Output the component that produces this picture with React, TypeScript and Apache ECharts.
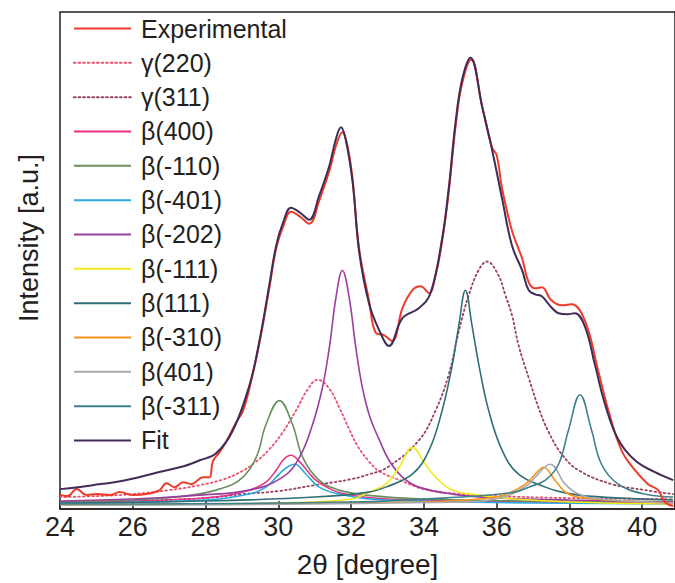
import React, { useEffect, useRef } from "react";
import * as echarts from "echarts";

type P = [number, number];

const xTicks = [24, 26, 28, 30, 32, 34, 36, 38, 40];

const experimental: P[] = [
  [24.0, 14], [24.2, 13], [24.46, 20], [24.73, 14], [25.01, 15], [25.37, 14], [25.64, 17], [26.01, 14],
  [26.38, 15], [26.74, 19], [26.92, 26], [27.15, 22], [27.38, 27], [27.61, 25], [27.93, 32], [28.11, 32],
  [28.2, 48], [28.38, 57], [28.57, 68], [28.84, 87], [29.02, 98], [29.21, 122], [29.48, 167], [29.75, 222],
  [29.94, 262], [30.12, 283], [30.35, 299], [30.6, 294], [30.85, 287], [31.12, 310], [31.4, 340], [31.58, 365],
  [31.76, 379], [31.9, 365], [32.04, 332], [32.22, 262], [32.49, 210], [32.68, 177], [32.9, 175], [33.13, 169],
  [33.41, 202], [33.68, 220], [33.91, 224], [34.14, 217], [34.32, 235], [34.5, 269], [34.68, 318], [34.87, 385],
  [35.05, 428], [35.3, 452], [35.6, 405], [35.87, 364], [36.0, 356], [36.15, 322], [36.42, 280], [36.7, 252],
  [36.88, 228], [37.06, 222], [37.24, 223], [37.5, 210], [37.79, 205], [38.06, 206], [38.43, 189], [38.79, 139],
  [39.07, 99], [39.43, 59], [39.8, 39], [40.16, 25], [40.44, 19], [40.62, 7], [40.85, 3]
];

const gamma220: P[] = [
  [24, 12], [25, 13], [26, 15], [27, 19], [27.84, 24], [28.5, 30], [29.0, 38], [29.4, 48], [29.75, 60],
  [30.1, 76], [30.5, 100], [30.8, 120], [31.08, 130], [31.4, 121], [31.7, 100], [31.95, 80], [32.2, 62],
  [32.49, 48], [32.77, 38], [33.41, 28], [34, 20], [35, 15], [36, 13], [38, 11], [40.85, 10]
];

const gamma311: P[] = [
  [24, 6], [26, 8], [28, 11], [29.02, 15], [30, 18], [31, 24], [32, 30], [32.5, 35], [33, 42], [33.86, 69],
  [34.32, 99], [34.68, 135], [34.96, 179], [35.23, 215], [35.5, 240], [35.73, 249], [36.05, 235], [36.24, 215],
  [36.42, 195], [36.6, 165], [36.88, 132], [37.15, 102], [37.42, 78], [37.79, 55], [38.25, 39], [39.16, 25],
  [40.07, 19], [40.85, 15]
];

const beta400: P[] = [
  [24, 7], [27, 9], [28.5, 13], [29.21, 19], [29.66, 27], [29.94, 39], [30.15, 50], [30.35, 54], [30.55, 49],
  [30.76, 40], [31.03, 29], [31.49, 19], [31.95, 14], [33, 10], [35, 8], [40.85, 6]
];

const betaM110: P[] = [
  [24, 7], [26.5, 10], [27.6, 14], [28.29, 19], [28.93, 29], [29.39, 52], [29.66, 85], [30.03, 109], [30.39, 85],
  [30.67, 52], [31.12, 29], [31.67, 19], [32.4, 14], [34, 10], [37, 8], [40.85, 7]
];

const betaM401: P[] = [
  [24, 6], [28, 9], [29.2, 15], [29.66, 22], [29.94, 32], [30.2, 41], [30.45, 45], [30.76, 35], [31.12, 22],
  [31.67, 15], [32.5, 10], [35, 7], [40.85, 5]
];

const betaM202: P[] = [
  [24, 8], [26, 10], [27.84, 14], [29.21, 19], [30.12, 32], [30.58, 52], [30.94, 85], [31.21, 122], [31.4, 162],
  [31.58, 212], [31.76, 240], [31.95, 212], [32.13, 162], [32.31, 122], [32.52, 92], [32.77, 70], [33.04, 49],
  [33.41, 32], [33.86, 22], [34.78, 15], [36, 11], [38, 9], [40.85, 7]
];

const betaM111: P[] = [
  [24, 4], [30, 6], [32, 10], [32.49, 17], [32.95, 25], [33.32, 42], [33.68, 62], [34.04, 45], [34.32, 32],
  [34.78, 19], [35.51, 14], [36.5, 10], [38, 7], [40.85, 5]
];

const beta111: P[] = [
  [24, 6], [28, 8], [31, 12], [32.49, 17], [32.95, 22], [33.68, 35], [34.14, 59], [34.5, 99], [34.78, 145],
  [34.96, 185], [35.14, 220], [35.32, 185], [35.51, 145], [35.78, 99], [36.15, 59], [36.6, 35], [37.34, 22],
  [37.79, 17], [38.5, 13], [40.85, 9]
];

const betaM310: P[] = [
  [24, 4], [34, 7], [35.5, 10], [36.2, 14], [36.79, 25], [37.06, 35], [37.29, 42], [37.6, 29], [37.97, 15],
  [38.7, 10], [40.85, 6]
];

const beta401: P[] = [
  [24, 4], [35, 7], [36.2, 12], [36.88, 25], [37.06, 32], [37.47, 45], [37.88, 25], [38.25, 15], [38.8, 10],
  [40.85, 6]
];

const betaM311: P[] = [
  [24, 5], [32, 7], [35, 12], [36.5, 17], [36.88, 22], [37.34, 29], [37.7, 45], [37.97, 79], [38.29, 115],
  [38.61, 79], [38.88, 45], [39.34, 25], [40.07, 15], [40.85, 12]
];

const fit: P[] = [
  [24.0, 20], [24.9, 24], [25.8, 29], [26.7, 37], [27.4, 43], [27.84, 49], [28.29, 56], [28.75, 79],
  [29.21, 125], [29.48, 169], [29.75, 225], [29.94, 265], [30.12, 287], [30.35, 303], [30.6, 298], [30.85, 291],
  [31.12, 315], [31.4, 345], [31.58, 372], [31.72, 384], [31.85, 372], [32.04, 329], [32.22, 259], [32.49, 207],
  [32.77, 180], [33.04, 164], [33.41, 192], [33.86, 202], [34.18, 217], [34.5, 272], [34.68, 322], [34.87, 389],
  [35.05, 432], [35.28, 454], [35.6, 405], [35.87, 362], [36.15, 312], [36.42, 265], [36.7, 240], [36.88, 220],
  [37.06, 216], [37.24, 214], [37.5, 203], [37.7, 197], [37.95, 196], [38.15, 197], [38.43, 183], [38.7, 145],
  [38.98, 105], [39.34, 70], [39.8, 49], [40.35, 37], [40.85, 29]
];

const names = [
  "Experimental", "γ(220)", "γ(311)", "β(400)", "β(-110)", "β(-401)", "β(-202)",
  "β(-111)", "β(111)", "β(-310)", "β(401)", "β(-311)", "Fit"
];
const colors = [
  "#EE3B2A", "#E8506E", "#9A3F5C", "#E7317F", "#6B8E5E", "#29AAE1", "#9C3E9E",
  "#F2EA1E", "#2F6F75", "#F7941D", "#A7A9AC", "#40808A", "#412B57"
];
const datasets = [
  experimental, gamma220, gamma311, beta400, betaM110, betaM401, betaM202,
  betaM111, beta111, betaM310, beta401, betaM311, fit
];

export default function App() {
  const ref = useRef<HTMLDivElement>(null);
  useEffect(() => {
    if (!ref.current) return;
    const chart = echarts.init(ref.current, undefined, { renderer: "svg" });
    const font = "'Liberation Sans', Arial, Helvetica, sans-serif";
    const series = names.map((n, i) => {
      const dotted = n.startsWith("γ");
      const main = n === "Experimental" || n === "Fit";
      return {
        name: n,
        type: "line",
        data: datasets[i],
        smooth: 0.4,
        symbol: "none",
        z: n === "Fit" ? 4 : n === "Experimental" ? 3 : 2,
        lineStyle: {
          color: colors[i],
          width: main ? 2 : dotted ? 1.8 : 1.6,
          type: dotted ? [1.6, 3] : "solid",
          cap: dotted ? "round" : "butt",
        },
        itemStyle: { color: colors[i] },
      };
    });
    chart.setOption({
      animation: false,
      backgroundColor: "#ffffff",
      grid: {
        left: 60, top: 12, right: -2, bottom: 71,
        show: true, borderColor: "#231F20", borderWidth: 1.5, backgroundColor: "transparent",
      },
      legend: {
        data: names,
        orient: "vertical",
        left: 73,
        top: 16,
        padding: 0,
        itemWidth: 57,
        itemHeight: 14,
        itemGap: 9.33,
        itemStyle: { opacity: 0 },
        textStyle: { fontSize: 25, lineHeight: 24, color: "#231F20", fontFamily: font, padding: [0, 0, 0, 5] },
      },
      xAxis: {
        type: "value",
        min: 24,
        max: 40.9,
        interval: 2,
        name: "2θ [degree]",
        nameLocation: "middle",
        nameGap: 41,
        nameTextStyle: { fontSize: 28, color: "#231F20", fontFamily: font },
        axisLine: { show: true, lineStyle: { color: "#231F20", width: 1.5 } },
        axisTick: { show: true, inside: true, length: 8, lineStyle: { color: "#231F20", width: 1.5 } },
        axisLabel: {
          fontSize: 27, color: "#231F20", fontFamily: font, margin: 4,
          customValues: xTicks,
          formatter: (v: number) => (xTicks.includes(v) ? String(v) : ""),
        },
        splitLine: { show: false },
      },
      yAxis: {
        type: "value",
        min: 0,
        max: 500,
        axisLine: { show: false },
        axisTick: { show: false },
        axisLabel: { show: false },
        splitLine: { show: false },
      },
      graphic: [
        {
          type: "text",
          x: 29,
          y: 238,
          rotation: Math.PI / 2,
          style: {
            text: "Intensity [a.u.]",
            fontSize: 27,
            fontFamily: font,
            fill: "#231F20",
            align: "center",
            verticalAlign: "middle",
          },
        },
      ],
      series,
    });
    return () => chart.dispose();
  }, []);
  return (
    <div
      ref={ref}
      style={{ position: "fixed", left: 0, top: 0, width: 675, height: 583, background: "#fff" }}
    />
  );
}
